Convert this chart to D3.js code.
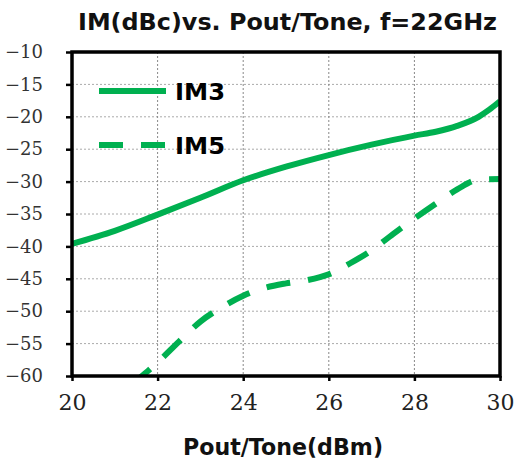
<!DOCTYPE html>
<html>
<head>
<meta charset="utf-8">
<script src="https://cdn.jsdelivr.net/npm/d3@7"></script>
<style>
  body { margin: 0; background: #fff; }
  svg { display: block; }
</style>
</head>
<body>
<div id="chart"></div>
<script>
// data
const xTicks = [20, 22, 24, 26, 28, 30];
const yTicks = [-10, -15, -20, -25, -30, -35, -40, -45, -50, -55, -60];

const im3X = [20, 21, 22, 23, 24, 25, 26, 27, 28, 28.5, 29, 29.5, 29.75, 30];
const im3Y = [-39.6, -37.6, -35.1, -32.5, -29.8, -27.7, -25.9, -24.3, -22.9, -22.3, -21.4, -20.0, -18.9, -17.6];

const im5X = [21.4, 22, 22.5, 23, 23.5, 24, 24.5, 25, 25.5, 26, 26.5, 27, 27.5, 28, 28.5, 29, 29.5, 30];
const im5Y = [-61.3, -57.9, -54.7, -51.6, -49.4, -47.6, -46.4, -45.7, -45.2, -44.3, -42.6, -40.6, -38.1, -35.7, -33.4, -31.2, -29.7, -29.6];

const green = "#00b050";
const serif = "DejaVu Serif";

const margin = { top: 52, right: 14, bottom: 86, left: 72 },
    width = 514 - margin.left - margin.right,
    height = 462 - margin.top - margin.bottom;

let svg = d3.select("#chart")
    .append("svg")
    .attr("width", 514)
    .attr("height", 462);

let group = svg.append("g")
    .attr("transform", "translate(" + margin.left + "," + margin.top + ")");

const x = d3.scaleLinear().domain([20, 30]).range([0, width]);
const y = d3.scaleLinear().domain([-60, -10]).range([height, 0]);

// grid lines
group.append("g")
    .selectAll("line")
    .data(yTicks.slice(1, -1))
    .join("line")
    .attr("x1", 0).attr("x2", width)
    .attr("y1", d => y(d)).attr("y2", d => y(d))
    .attr("stroke", "#aaa")
    .attr("stroke-dasharray", "2,2");

group.append("g")
    .selectAll("line")
    .data(xTicks.slice(1, -1))
    .join("line")
    .attr("y1", 0).attr("y2", height)
    .attr("x1", d => x(d)).attr("x2", d => x(d))
    .attr("stroke", "#888")
    .attr("stroke-dasharray", "2,2");

// axes
const xAxis = d3.axisBottom(x).tickValues(xTicks).tickSize(5).tickPadding(13).tickFormat(d3.format("d"));
const yAxis = d3.axisLeft(y).tickValues(yTicks).tickSize(6).tickPadding(23)
    .tickFormat(d => d < 0 ? "\u2212" + Math.abs(d) : d);

let xDisplay = group.append("g")
    .attr("transform", `translate(0, ${height})`)
    .call(xAxis)
    .attr("font-family", serif)
    .attr("font-size", 22);
xDisplay.selectAll("text").attr("fill", "#222");

let yDisplay = group.append("g")
    .call(yAxis)
    .attr("font-family", serif)
    .attr("font-size", 18);
yDisplay.selectAll("text").attr("fill", "#333");

[xDisplay, yDisplay].forEach(a => {
    a.select(".domain").remove();
    a.selectAll(".tick line").attr("stroke", "#000").attr("stroke-width", 2.5);
});

// clip for the curves
svg.append("defs").append("clipPath")
    .attr("id", "plot-clip")
    .append("rect")
    .attr("width", width)
    .attr("height", height);

const line = d3.line()
    .x(d => x(d[0]))
    .y(d => y(d[1]))
    .curve(d3.curveMonotoneX);

let curves = group.append("g").attr("clip-path", "url(#plot-clip)");

curves.append("path")
    .datum(d3.zip(im3X, im3Y))
    .attr("d", line)
    .attr("fill", "none")
    .attr("stroke", green)
    .attr("stroke-width", 6);

curves.append("path")
    .datum(d3.zip(im5X, im5Y))
    .attr("d", line)
    .attr("fill", "none")
    .attr("stroke", green)
    .attr("stroke-width", 6)
    .attr("stroke-dasharray", "24,18");

// plot frame
group.append("rect")
    .attr("width", width)
    .attr("height", height)
    .attr("fill", "none")
    .attr("stroke", "#000")
    .attr("stroke-width", 3.5);

// legend
const legend = [
    { name: "IM3", dash: null, y: 91 },
    { name: "IM5", dash: "24,18", y: 145 }
];
legend.forEach(l => {
    svg.append("line")
        .attr("x1", 99).attr("x2", 166)
        .attr("y1", l.y).attr("y2", l.y)
        .attr("stroke", green)
        .attr("stroke-width", 6)
        .attr("stroke-dasharray", l.dash);
    svg.append("text")
        .attr("x", 175)
        .attr("y", l.y + 9)
        .attr("font-family", "DejaVu Sans")
        .attr("font-weight", "bold")
        .attr("font-size", 23)
        .attr("textLength", 50)
        .attr("lengthAdjust", "spacingAndGlyphs")
        .text(l.name);
});

// title and axis label
svg.append("text")
    .attr("x", 78)
    .attr("y", 30)
    .attr("font-family", "DejaVu Sans")
    .attr("font-weight", "bold")
    .attr("font-size", 23)
    .attr("textLength", 419)
    .attr("lengthAdjust", "spacingAndGlyphs")
    .attr("fill", "#111")
    .text("IM(dBc)vs. Pout/Tone, f=22GHz");

svg.append("text")
    .attr("x", 183)
    .attr("y", 455)
    .attr("font-family", "DejaVu Sans")
    .attr("font-weight", "bold")
    .attr("font-size", 23)
    .attr("textLength", 200)
    .attr("lengthAdjust", "spacingAndGlyphs")
    .attr("fill", "#111")
    .text("Pout/Tone(dBm)");
</script>
</body>
</html>
